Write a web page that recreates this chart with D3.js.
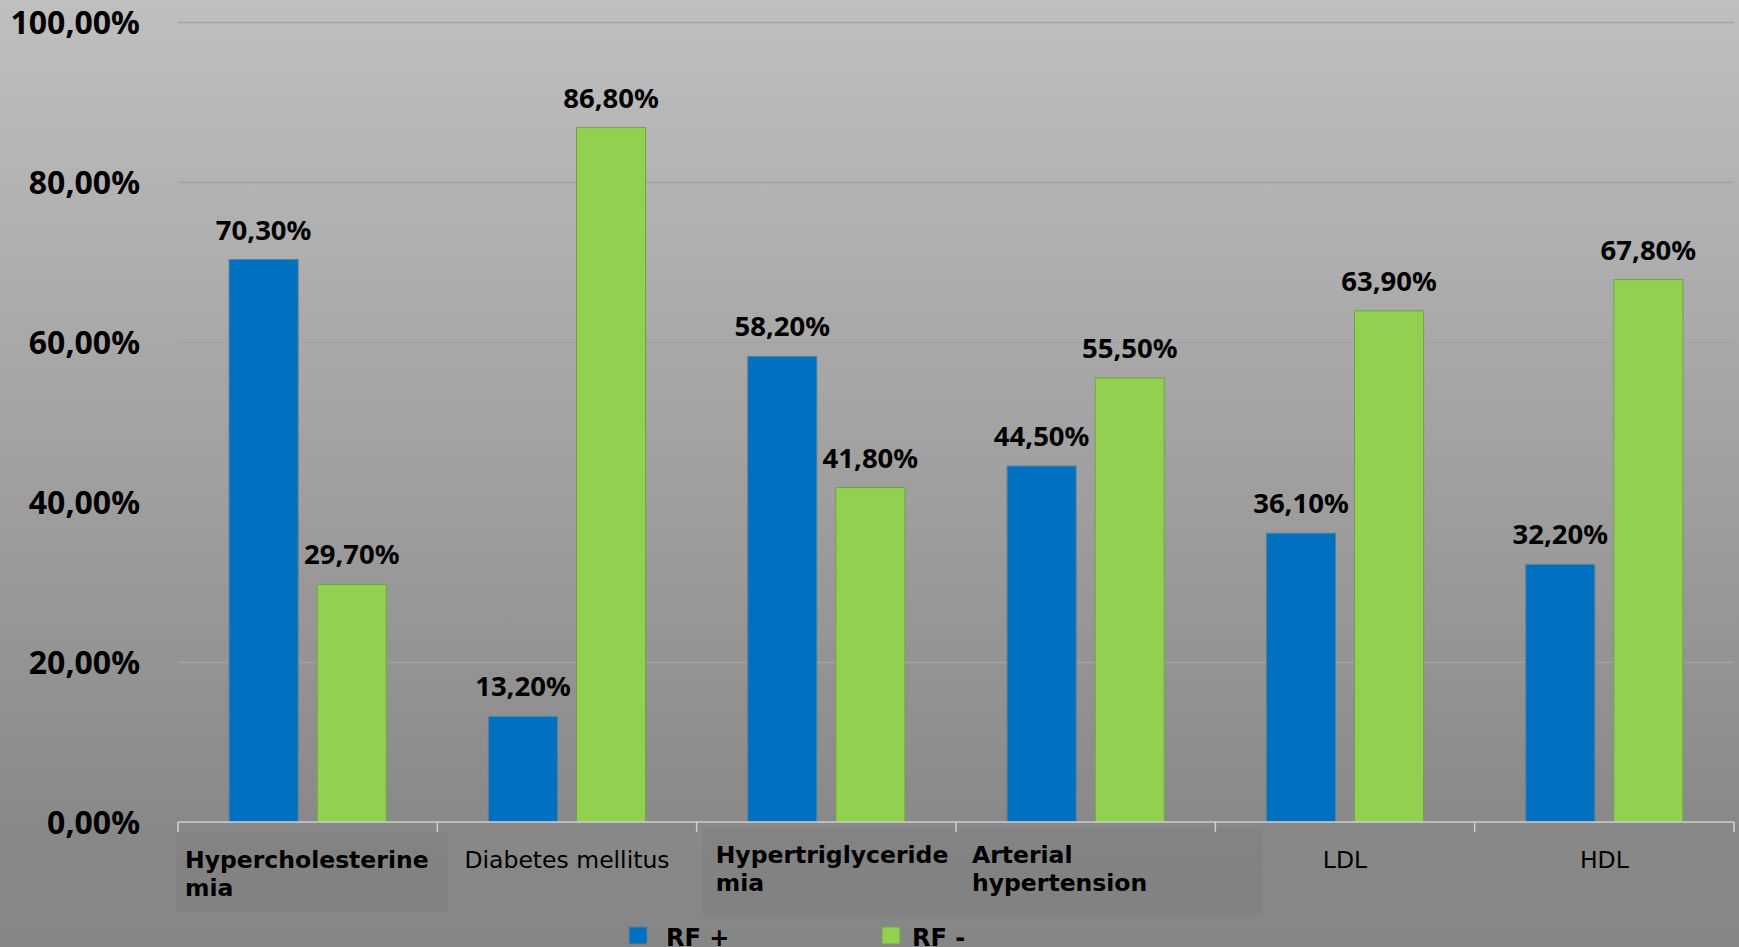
<!DOCTYPE html>
<html>
<head>
<meta charset="utf-8">
<script src="https://cdn.jsdelivr.net/npm/d3@7"></script>
<style>
  html, body { margin: 0; padding: 0; background: #888; overflow: hidden; }
  svg { display: block; }
</style>
</head>
<body>
<svg id="chart"></svg>
<script>
// data
const categories = ['Hypercholesterinemia', 'Diabetes mellitus', 'Hypertriglyceridemia', 'Arterial hypertension', 'LDL', 'HDL'];
const categoryLines = [['Hypercholesterine', 'mia'], ['Diabetes mellitus'], ['Hypertriglyceride', 'mia'], ['Arterial', 'hypertension'], ['LDL'], ['HDL']];
const seriesNames = ['RF +', 'RF -'];
const rfPlus = [70.3, 13.2, 58.2, 44.5, 36.1, 32.2];
const rfMinus = [29.7, 86.8, 41.8, 55.5, 63.9, 67.8];
const yTicks = [0, 20, 40, 60, 80, 100];

// label placement (Excel put these a bit oddly)
const labelLayout = [
  { anchor: 'start', dx: 7, y: 868, bold: true },
  { anchor: 'middle', dx: 0, y: 868, bold: false },
  { anchor: 'start', dx: 19, y: 863, bold: true },
  { anchor: 'start', dx: 16, y: 863, bold: true },
  { anchor: 'middle', dx: 0, y: 868, bold: false },
  { anchor: 'middle', dx: 0, y: 868, bold: false }
];

const colors = { 'RF +': '#0070c0', 'RF -': '#92d050' };
const strokes = { 'RF +': '#5f7f99', 'RF -': '#779f4f' };

const W = 1739, H = 947;
const m = { left: 178, right: 1734, top: 22, bottom: 822 };

const svg = d3.select('#chart').attr('width', W).attr('height', H);

const grad = svg.append('defs').append('linearGradient')
  .attr('id', 'bg').attr('x1', 0).attr('y1', 0).attr('x2', 0).attr('y2', 1);
grad.append('stop').attr('offset', '0%').attr('stop-color', '#bfbfbf');
grad.append('stop').attr('offset', '88%').attr('stop-color', '#888888');
grad.append('stop').attr('offset', '100%').attr('stop-color', '#868686');

svg.append('rect').attr('width', W).attr('height', H).attr('fill', 'url(#bg)');

const x0 = d3.scaleBand().domain(categories).range([m.left, m.right]).padding(0);
const x1 = d3.scaleBand().domain(seriesNames).range([0, x0.bandwidth()])
  .paddingInner(0.216).paddingOuter(0.58);
const y = d3.scaleLinear().domain([0, 100]).range([m.bottom, m.top]);

const fmt = d => d3.format('.2f')(d).replace('.', ',') + '%';

// gridlines
svg.append('g')
  .attr('transform', `translate(${m.left},0)`)
  .call(d3.axisLeft(y).tickValues(yTicks.slice(1)).tickSize(-(m.right - m.left)).tickFormat(''))
  .call(g => g.select('.domain').remove())
  .call(g => g.selectAll('line').attr('stroke', '#a3a3a3').attr('stroke-width', 1.5));

// y labels
svg.append('g')
  .attr('transform', `translate(140,0)`)
  .call(d3.axisLeft(y).tickValues(yTicks).tickSize(0).tickPadding(0).tickFormat(fmt))
  .call(g => g.select('.domain').remove())
  .call(g => g.selectAll('text')
    .attr('fill', '#000')
    .attr('dy', '0.36em')
    .style('font-family', '"Noto Sans", sans-serif')
    .style('font-weight', 'bold')
    .style('font-size', '32px'));

// label backdrop boxes
svg.append('rect').attr('x', 176).attr('y', 833).attr('width', 272).attr('height', 79).attr('fill', '#000').attr('opacity', 0.035);
svg.append('rect').attr('x', 703).attr('y', 828).attr('width', 560).attr('height', 87).attr('fill', '#000').attr('opacity', 0.035);

// bars
const rows = categories.map((c, i) => ({ cat: c, vals: [
  { s: 'RF +', v: rfPlus[i] }, { s: 'RF -', v: rfMinus[i] }
] }));

const groups = svg.append('g').selectAll('g').data(rows).join('g')
  .attr('transform', d => `translate(${x0(d.cat)},0)`);

groups.selectAll('rect').data(d => d.vals).join('rect')
  .attr('x', d => x1(d.s))
  .attr('y', d => y(d.v))
  .attr('width', x1.bandwidth())
  .attr('height', d => y(0) - y(d.v))
  .attr('fill', d => colors[d.s])
  .attr('stroke', d => strokes[d.s])
  .attr('stroke-width', 1);

groups.selectAll('text').data(d => d.vals).join('text')
  .attr('x', d => x1(d.s) + x1.bandwidth() / 2)
  .attr('y', d => y(d.v) - 20)
  .attr('text-anchor', 'middle')
  .style('font-family', '"Noto Sans", sans-serif')
  .style('font-weight', 'bold')
  .style('font-size', '27.5px')
  .attr('fill', '#000')
  .text(d => fmt(d.v));

// x axis line + boundary ticks
const xa = svg.append('g');
xa.append('line').attr('x1', m.left).attr('x2', m.right).attr('y1', m.bottom).attr('y2', m.bottom)
  .attr('stroke', '#cfcfcf').attr('stroke-width', 1.5);
xa.selectAll('.tk').data(categories.map(c => x0(c)).concat([m.right])).join('line')
  .attr('class', 'tk')
  .attr('x1', d => d).attr('x2', d => d).attr('y1', m.bottom).attr('y2', m.bottom + 10)
  .attr('stroke', '#cfcfcf').attr('stroke-width', 1.5);

// category labels
const lab = svg.append('g').selectAll('text').data(categories).join('text')
  .attr('text-anchor', (d, i) => labelLayout[i].anchor)
  .attr('x', (d, i) => labelLayout[i].anchor === 'middle' ? x0(d) + x0.bandwidth() / 2 : x0(d) + labelLayout[i].dx)
  .attr('y', (d, i) => labelLayout[i].y)
  .style('font-family', '"DejaVu Sans", Verdana, sans-serif')
  .style('font-size', '23.5px')
  .style('font-weight', (d, i) => labelLayout[i].bold ? 'bold' : 'normal')
  .attr('fill', '#000');

lab.selectAll('tspan').data((d, i) => categoryLines[i].map(t => ({ t, i }))).join('tspan')
  .attr('x', function () { return d3.select(this.parentNode).attr('x'); })
  .attr('dy', (d, j) => j === 0 ? 0 : 28)
  .text(d => d.t);

// legend
const legendX = [629, 882];
const leg = svg.append('g').selectAll('g').data(seriesNames).join('g')
  .attr('transform', (d, i) => `translate(${legendX[i]},927)`);
leg.append('rect').attr('width', 18).attr('height', 17)
  .attr('fill', d => colors[d]).attr('stroke', d => strokes[d]).attr('stroke-width', 1);
leg.append('text')
  .attr('x', (d, i) => i === 0 ? 37 : 30)
  .attr('y', 19)
  .style('font-family', '"DejaVu Sans", Verdana, sans-serif')
  .style('font-weight', 'bold')
  .style('font-size', '24px')
  .attr('fill', '#000')
  .text(d => d);
</script>
</body>
</html>
